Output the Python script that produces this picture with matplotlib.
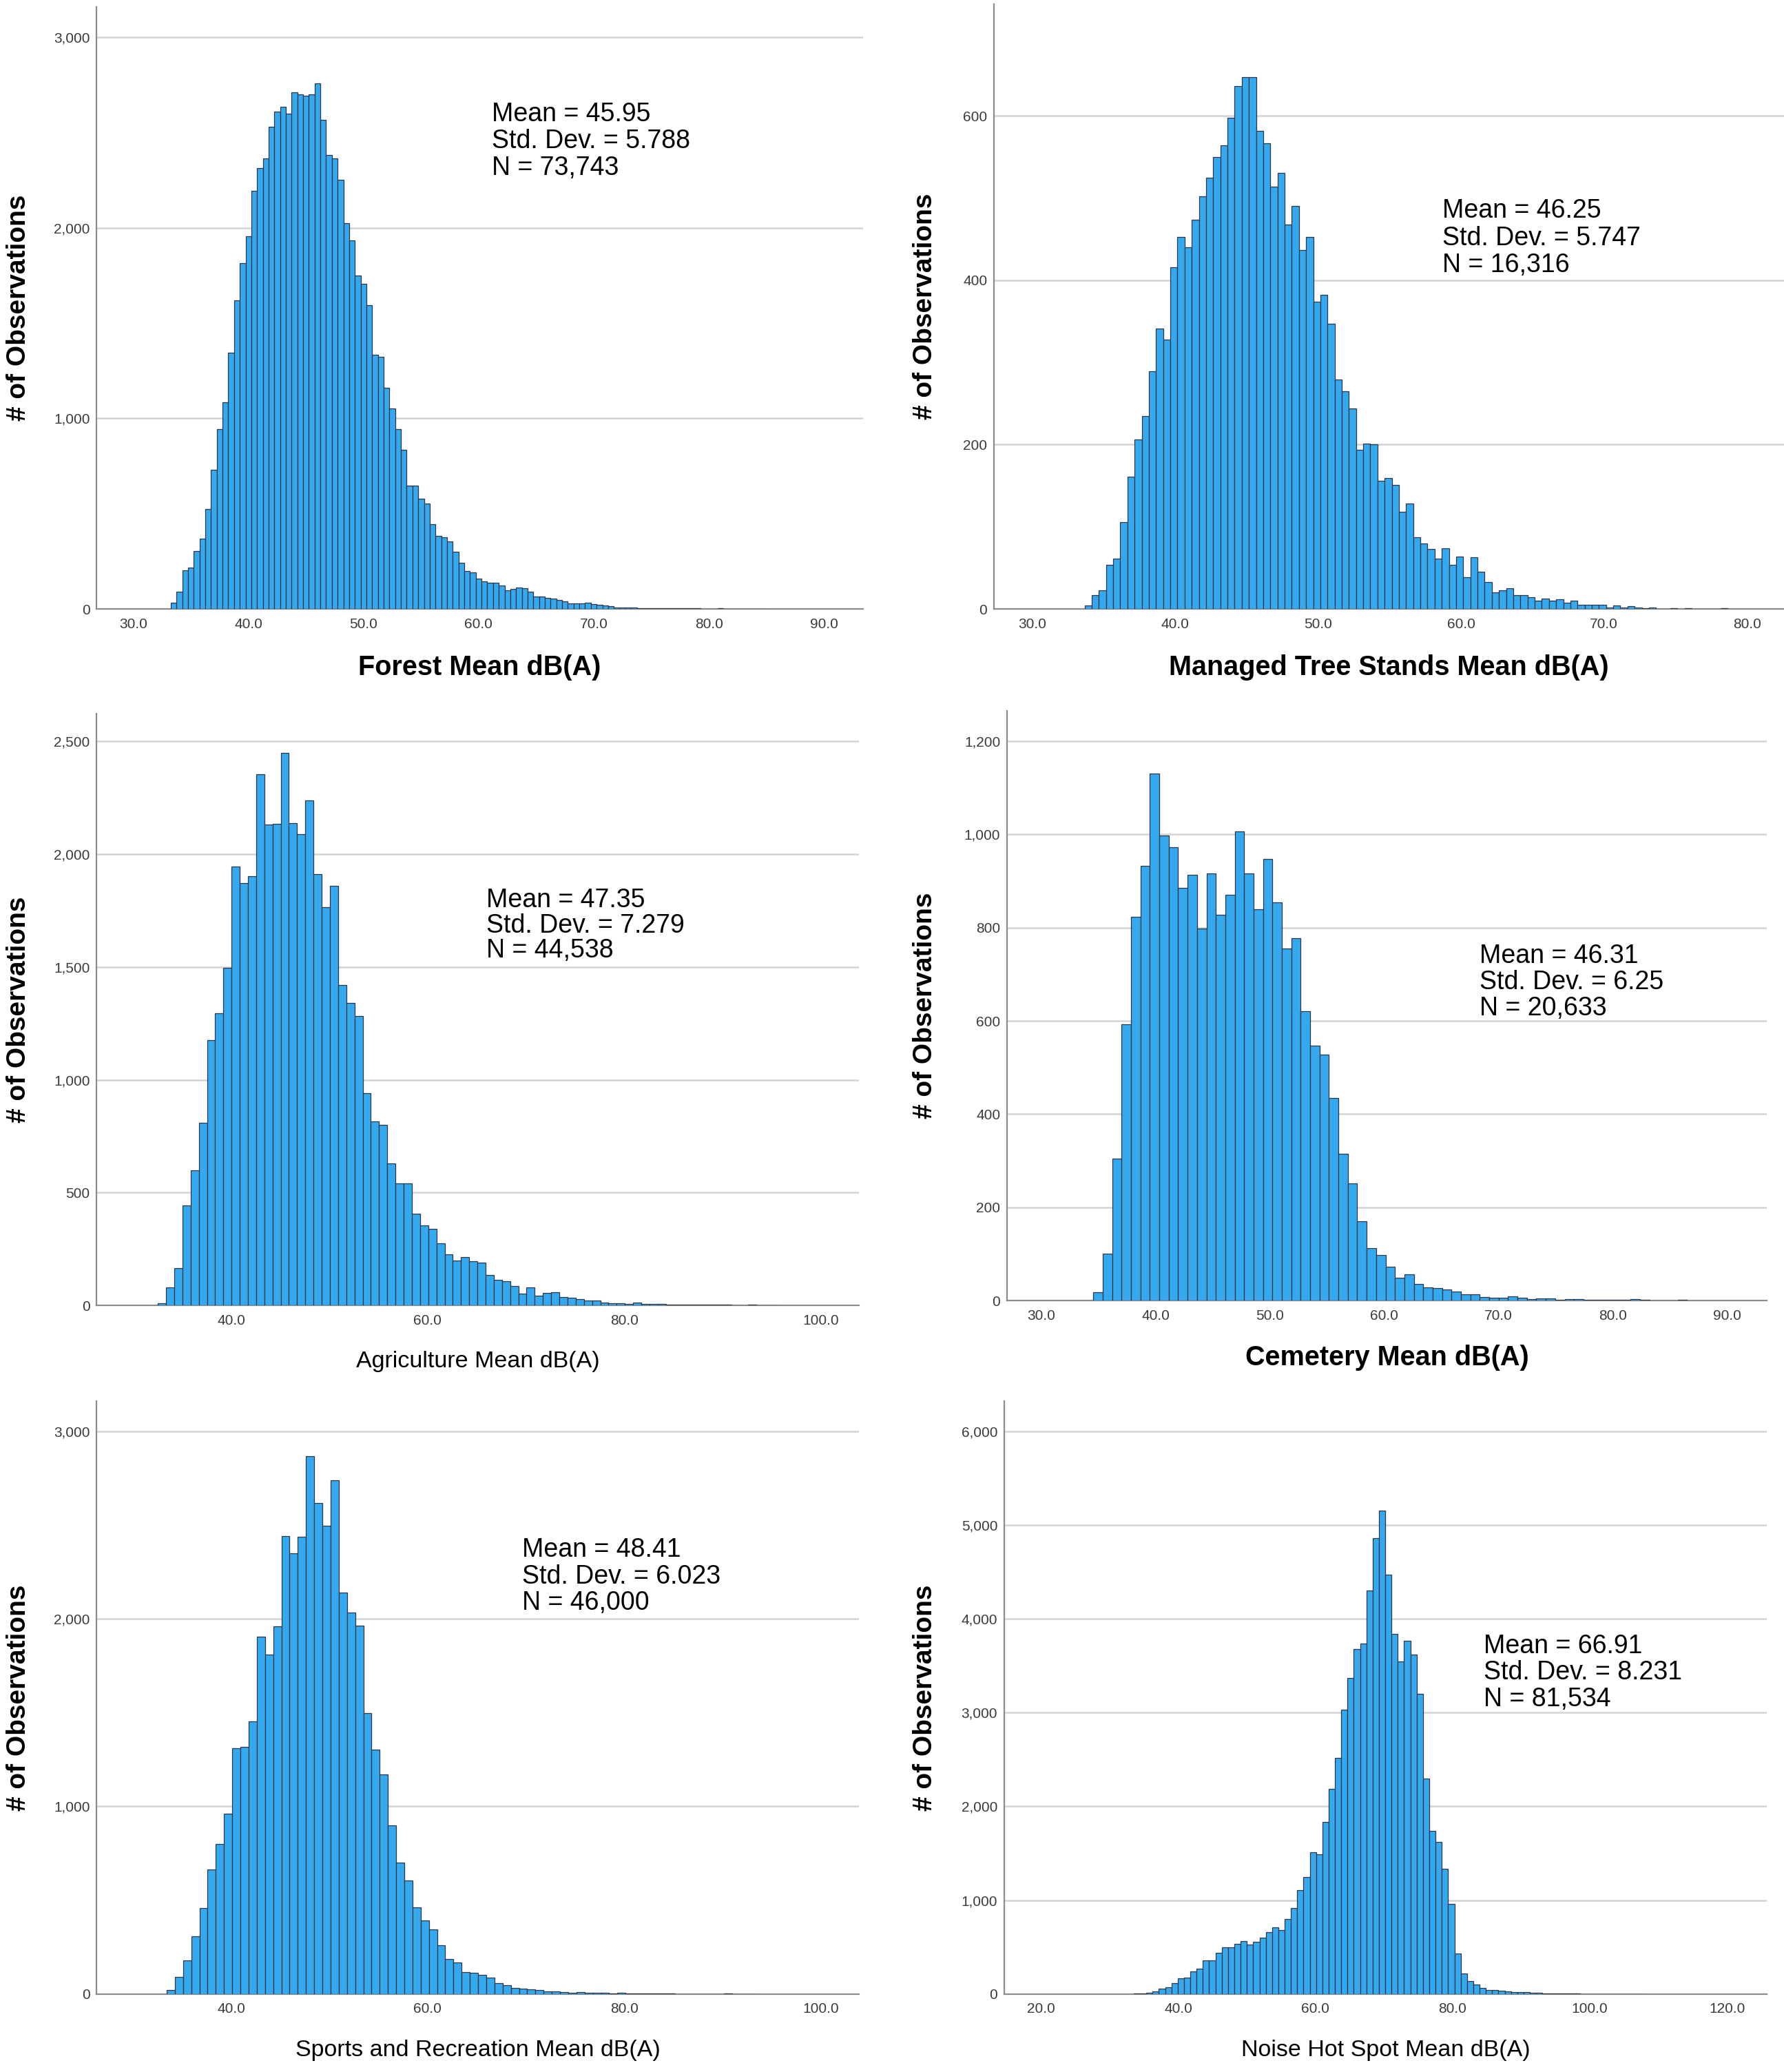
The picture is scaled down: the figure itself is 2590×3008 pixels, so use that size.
"""
Six SPSS-style histograms of mean noise level dB(A) by land-use type.
"""

import numpy as np
import matplotlib.pyplot as plt
from matplotlib.ticker import FuncFormatter

# ---- bin counts, left to right ----
forest_start, forest_width = 33.25, 0.5
forest_counts = [32, 90, 202, 218, 303, 370, 526, 731, 943, 1083,
                 1345, 1618, 1816, 1956, 2193, 2313, 2366, 2531, 2611, 2634,
                 2598, 2710, 2701, 2692, 2699, 2759, 2566, 2382, 2366, 2253,
                 2023, 1933, 1749, 1706, 1595, 1333, 1322, 1159, 1053, 945,
                 834, 648, 648, 577, 552, 444, 382, 375, 356, 299,
                 244, 198, 191, 159, 145, 136, 136, 122, 97, 106,
                 113, 108, 92, 67, 67, 57, 53, 46, 39, 28,
                 28, 28, 34, 25, 21, 18, 14, 9, 8, 7,
                 6, 5, 5, 4, 4, 3, 3, 3, 2, 2,
                 2, 2, 1, 1, 1, 2, 1, 0, 1, 0,
                 0, 0, 0, 1]
forest_stats = ["Mean = 45.95", "Std. Dev. = 5.788", "N = 73,743"]

managed_start, managed_width = 33.65, 0.5
managed_counts = [4, 17, 23, 54, 61, 106, 161, 206, 235, 289,
                  341, 328, 416, 453, 440, 474, 502, 525, 550, 564,
                  598, 636, 647, 647, 582, 567, 514, 531, 468, 490,
                  437, 453, 374, 382, 347, 279, 265, 244, 194, 201,
                  200, 156, 159, 151, 118, 128, 87, 80, 73, 61,
                  74, 54, 64, 39, 63, 45, 33, 20, 23, 25,
                  17, 17, 14, 10, 13, 10, 12, 8, 10, 5,
                  5, 5, 5, 2, 4, 2, 3, 2, 1, 2,
                  0, 0, 1, 0, 1, 0, 0, 0, 0, 1]
managed_stats = ["Mean = 46.25", "Std. Dev. = 5.747", "N = 16,316"]

agri_start, agri_width = 32.54, 0.834
agri_counts = [10, 78, 166, 444, 599, 808, 1175, 1294, 1497, 1944,
               1873, 1903, 2353, 2130, 2133, 2450, 2138, 2090, 2239, 1912,
               1765, 1861, 1421, 1341, 1282, 940, 814, 799, 628, 542,
               542, 406, 354, 339, 274, 227, 200, 213, 196, 190,
               135, 113, 106, 86, 53, 79, 43, 54, 59, 37,
               34, 27, 22, 22, 12, 10, 10, 5, 11, 6,
               6, 6, 4, 4, 2, 4, 2, 2, 4, 2,
               1, 1, 2, 1, 0, 1]
agri_stats = ["Mean = 47.35", "Std. Dev. = 7.279", "N = 44,538"]

cem_start, cem_width = 34.55, 0.825
cem_counts = [18, 100, 304, 592, 823, 932, 1130, 997, 973, 885,
              913, 798, 916, 827, 870, 1006, 916, 839, 947, 854,
              756, 777, 621, 547, 527, 434, 315, 251, 170, 113,
              97, 72, 49, 56, 36, 28, 27, 24, 19, 14,
              14, 8, 6, 6, 9, 6, 3, 4, 4, 2,
              3, 3, 1, 1, 1, 1, 1, 3, 1, 0,
              0, 0, 2]
cem_stats = ["Mean = 46.31", "Std. Dev. = 6.25", "N = 20,633"]

sports_start, sports_width = 33.44, 0.834
sports_counts = [22, 92, 178, 308, 458, 663, 799, 963, 1309, 1319,
                 1453, 1906, 1810, 1958, 2440, 2350, 2438, 2865, 2615, 2497,
                 2739, 2138, 2032, 1964, 1499, 1303, 1169, 899, 699, 605,
                 462, 392, 344, 262, 186, 168, 118, 112, 102, 86,
                 58, 46, 34, 30, 24, 20, 16, 14, 12, 8,
                 10, 8, 6, 6, 4, 6, 4, 3, 3, 2,
                 2, 2, 1, 1, 1, 0, 1, 0, 2, 0,
                 0, 1]
sports_stats = ["Mean = 48.41", "Std. Dev. = 6.023", "N = 46,000"]

noise_start, noise_width = 33.49, 0.917
noise_counts = [5, 9, 14, 30, 60, 70, 118, 165, 176, 243,
                274, 360, 360, 439, 498, 498, 537, 568, 525, 556,
                603, 662, 713, 682, 803, 917, 1105, 1250, 1509, 1489,
                1834, 2187, 2516, 3033, 3366, 3679, 3738, 4302, 4859, 5153,
                4467, 3840, 3542, 3766, 3621, 3201, 2296, 1736, 1622, 1332,
                964, 435, 219, 141, 102, 67, 46, 42, 37, 28,
                23, 23, 18, 14, 14, 9, 9, 5, 4, 3,
                3, 2, 2, 2, 1, 1, 1, 0, 1, 0,
                1]
noise_stats = ["Mean = 66.91", "Std. Dev. = 8.231", "N = 81,534"]

BAR_COLOR = '#35a9f0'
EDGE_COLOR = '#2e3540'
GRID_COLOR = '#d4d4d4'
AXIS_COLOR = '#8c8c8c'
TICK_COLOR = '#3a3a3a'

plt.rcParams['font.family'] = ['Liberation Sans', 'DejaVu Sans']

# layout of each panel (figure fractions, limits, label placement)
panels = [
    dict(counts=forest_counts, start=forest_start, width=forest_width,
         rect=[0.0541, 0.7061, 0.4297, 0.2906], xlim=(26.8, 93.4), ylim=(0, 3160),
         xticks=np.arange(30, 91, 10), yticks=np.arange(0, 3001, 1000),
         xlabel="Forest Mean dB(A)", bold=True, stats=forest_stats,
         stats_x=0.516, stats_y=[0.821, 0.777, 0.732], ylab_x=-0.1015),
    dict(counts=managed_counts, start=managed_start, width=managed_width,
         rect=[0.5571, 0.7061, 0.4429, 0.2919], xlim=(27.3, 82.6), ylim=(0, 736),
         xticks=np.arange(30, 81, 10), yticks=np.arange(0, 601, 200),
         xlabel="Managed Tree Stands Mean dB(A)", bold=True, stats=managed_stats,
         stats_x=0.568, stats_y=[0.658, 0.613, 0.568], ylab_x=-0.087),
    dict(counts=agri_counts, start=agri_start, width=agri_width,
         rect=[0.0541, 0.3700, 0.4274, 0.2856], xlim=(26.3, 103.9), ylim=(0, 2623),
         xticks=np.arange(40, 101, 20), yticks=np.arange(0, 2501, 500),
         xlabel="Agriculture Mean dB(A)", bold=False, stats=agri_stats,
         stats_x=0.511, stats_y=[0.684, 0.641, 0.599], ylab_x=-0.102),
    dict(counts=cem_counts, start=cem_start, width=cem_width,
         rect=[0.5645, 0.3723, 0.4259, 0.2846], xlim=(27.0, 93.5), ylim=(0, 1265),
         xticks=np.arange(30, 91, 10), yticks=np.arange(0, 1201, 200),
         xlabel="Cemetery Mean dB(A)", bold=True, stats=cem_stats,
         stats_x=0.622, stats_y=[0.584, 0.540, 0.496], ylab_x=-0.108),
    dict(counts=sports_counts, start=sports_start, width=sports_width,
         rect=[0.0541, 0.0376, 0.4274, 0.2862], xlim=(26.3, 103.9), ylim=(0, 3160),
         xticks=np.arange(40, 101, 20), yticks=np.arange(0, 3001, 1000),
         xlabel="Sports and Recreation Mean dB(A)", bold=False, stats=sports_stats,
         stats_x=0.558, stats_y=[0.749, 0.704, 0.660], ylab_x=-0.102),
    dict(counts=noise_counts, start=noise_start, width=noise_width,
         rect=[0.5629, 0.0376, 0.4274, 0.2862], xlim=(14.6, 125.8), ylim=(0, 6320),
         xticks=np.arange(20, 121, 20), yticks=np.arange(0, 6001, 1000),
         xlabel="Noise Hot Spot Mean dB(A)", bold=False, stats=noise_stats,
         stats_x=0.629, stats_y=[0.586, 0.542, 0.497], ylab_x=-0.104),
]

fig = plt.figure(figsize=(25.9, 30.08), dpi=100)

for p in panels:
    ax = fig.add_axes(p['rect'])
    counts = np.array(p['counts'])
    lefts = p['start'] + p['width'] * np.arange(len(counts))
    ax.bar(lefts, counts, width=p['width'], align='edge', color=BAR_COLOR,
           edgecolor=EDGE_COLOR, linewidth=0.9, zorder=2)

    ax.set_xlim(*p['xlim'])
    ax.set_ylim(*p['ylim'])
    ax.set_xticks(p['xticks'])
    ax.set_yticks(p['yticks'])
    ax.xaxis.set_major_formatter(FuncFormatter(lambda v, _: f"{v:.1f}"))
    ax.yaxis.set_major_formatter(FuncFormatter(lambda v, _: f"{v:,.0f}"))
    ax.tick_params(length=0, labelsize=15, colors=TICK_COLOR)
    ax.tick_params(axis='x', pad=9)
    ax.tick_params(axis='y', pad=7)

    # gridlines behind bars
    ax.set_axisbelow(True)
    ax.yaxis.grid(True, color=GRID_COLOR, linewidth=1.8)
    for side in ['top', 'right']:
        ax.spines[side].set_visible(False)
    for side in ['left', 'bottom']:
        ax.spines[side].set_color(AXIS_COLOR)
        ax.spines[side].set_linewidth(1.6)
        ax.spines[side].set_zorder(1.5)

    for line, y in zip(p['stats'], p['stats_y']):
        ax.text(p['stats_x'], y, line, transform=ax.transAxes, ha='left',
                va='center', fontsize=27, color='black')

    ax.text(p['ylab_x'], 0.5, "# of Observations", transform=ax.transAxes,
            rotation=90, ha='center', va='center', fontsize=28, fontweight='bold')
    if p['bold']:
        ax.text(0.5, -0.097, p['xlabel'], transform=ax.transAxes, ha='center',
                va='center', fontsize=28.5, fontweight='bold')
    else:
        ax.text(0.5, -0.095, p['xlabel'], transform=ax.transAxes, ha='center',
                va='center', fontsize=24.5)

fig.savefig("out.png", dpi=100, facecolor='white')
